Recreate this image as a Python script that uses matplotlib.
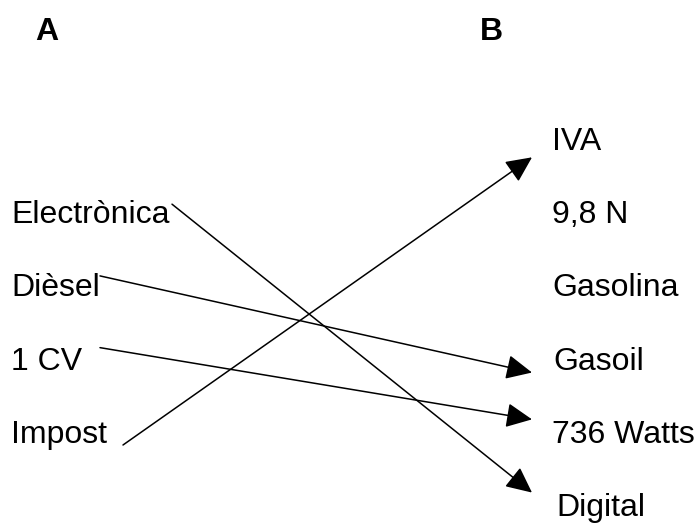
import matplotlib.pyplot as plt

# Columnes de l'exercici
left_items = ['Electrònica', 'Dièsel', '1 CV', 'Impost']
left_rows = [1, 2, 3, 4]
right_items = ['IVA', '9,8 N', 'Gasolina', 'Gasoil', '736 Watts', 'Digital']
right_rows = [0, 1, 2, 3, 4, 5]

# Relacions: index esquerre -> index dret
matches = [(0, 5), (1, 3), (2, 4), (3, 0)]

headers = ['A', 'B']

plt.rcParams['font.family'] = ['Liberation Sans', 'DejaVu Sans']

fig = plt.figure(figsize=(6.97, 5.23), dpi=100)
ax = fig.add_axes([0, 0, 1, 1])
ax.set_xlim(0, 697)
# files separades ~73 px, fila 0 a 150 px des de dalt
ax.set_ylim(373 / 73.2, -150 / 73.2)
ax.axis('off')

fs = 23
left_x = 11
right_x = [552, 552, 552, 553, 552, 556]

ax.text(35, -1.5, headers[0], fontsize=fs, fontweight='bold', va='baseline')
ax.text(480, -1.5, headers[1], fontsize=fs, fontweight='bold', va='baseline')

for name, r in zip(left_items, left_rows):
    ax.text(left_x, r, name, fontsize=fs, va='baseline')
for name, r, x in zip(right_items, right_rows, right_x):
    ax.text(x, r, name, fontsize=fs, va='baseline')

# punts d'inici / final de cada fletxa (ajust visual)
start_x = [172, 100, 100, 123]
start_dy = [-0.26, -0.28, -0.30, 0.03]
end_x = 532
end_dy = [-0.32, 0.04, -0.32, 0.10]

for k, (i, j) in enumerate(matches):
    ax.annotate('', xy=(end_x, right_rows[j] + end_dy[k]),
                xytext=(start_x[k], left_rows[i] + start_dy[k]),
                arrowprops=dict(arrowstyle='-|>,head_length=0.8,head_width=0.38',
                                mutation_scale=20, color='black', lw=1.1,
                                shrinkA=0, shrinkB=0))

fig.savefig('out.png', dpi=100, facecolor='white')
